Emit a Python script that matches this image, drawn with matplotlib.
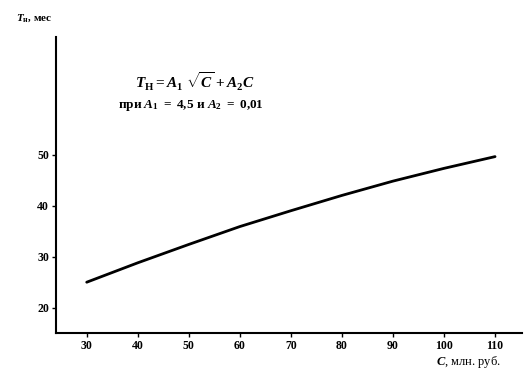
import matplotlib
matplotlib.use("Agg")
import matplotlib.pyplot as plt

# значения
C = [30, 40, 50, 60, 70, 80, 90, 100, 110]
T_n = [25.0, 28.8, 32.4, 35.9, 39.0, 42.0, 44.8, 47.3, 49.6]
x_ticks = [30, 40, 50, 60, 70, 80, 90, 100, 110]
y_ticks = [20, 30, 40, 50]

plt.rcParams['font.family'] = ['Liberation Serif', 'DejaVu Serif']
plt.rcParams['mathtext.fontset'] = 'custom'
plt.rcParams['mathtext.rm'] = 'Liberation Serif:bold'
plt.rcParams['mathtext.it'] = 'Liberation Serif:italic:bold'
plt.rcParams['mathtext.bf'] = 'Liberation Serif:bold'

fig = plt.figure(figsize=(5.29, 3.79), dpi=100)
ax = fig.add_axes([0.106, 0.122, 0.88, 0.78])

ax.plot(C, T_n, color='black', linewidth=2.0, solid_capstyle='round')

ax.set_xlim(24, 115.2)
ax.set_ylim(15.1, 73)
ax.set_xticks(x_ticks)
ax.set_yticks(y_ticks)
ax.tick_params(direction='out', length=3, width=1, labelsize=8.5, pad=2)
for lab in ax.get_xticklabels() + ax.get_yticklabels():
    lab.set_fontweight('bold')

ax.spines['top'].set_visible(False)
ax.spines['right'].set_visible(False)
ax.spines['left'].set_linewidth(1.5)
ax.spines['bottom'].set_linewidth(1.5)

fig.text(0.03, 0.945, r'$T_{\mathrm{н}}$' + ', мес', fontsize=8, fontweight='bold')
fig.text(0.825, 0.038, r'$C$' + ', млн. руб.', fontsize=9)

fig.text(0.255, 0.765, r'$T_{\mathrm{Н}} = A_1\ \sqrt{C} + A_2 C$', fontsize=11)
fig.text(0.223, 0.715, 'при ' + r'$A_1\ =\ 4{,}5$' + ' и ' + r'$A_2\ =\ 0{,}01$',
         fontsize=9.5, fontweight='bold')

fig.savefig('out.png', dpi=100)
